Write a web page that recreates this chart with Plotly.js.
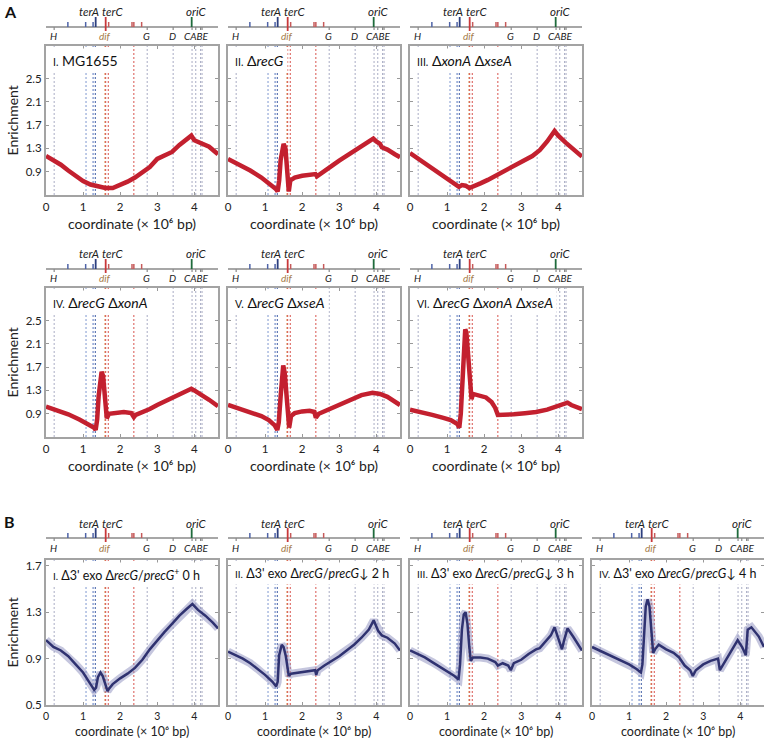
<!DOCTYPE html>
<html><head><meta charset="utf-8">
<script src="https://cdn.plot.ly/plotly-3.0.1.min.js"></script>
<style>body{margin:0;background:#fff}</style>
</head><body><div id="chart" style="width:764px;height:739px"></div>
<script>
// ---------- data (coordinate in Mb, enrichment) ----------
const a1X=[0,0.2,0.4,0.6,0.8,1.0,1.2,1.4,1.6,1.8,2.0,2.2,2.4,2.6,2.8,3.0,3.2,3.4,3.6,3.8,3.92,4.0,4.2,4.4,4.64];
const a1Y=[1.17,1.10,1.02,0.92,0.82,0.74,0.68,0.65,0.62,0.62,0.67,0.73,0.80,0.88,0.98,1.12,1.18,1.24,1.36,1.45,1.52,1.44,1.38,1.33,1.20];

const a2X=[0,0.3,0.6,0.9,1.1,1.3,1.34,1.38,1.42,1.47,1.5,1.55,1.6,1.64,1.68,1.8,2.0,2.2,2.36,2.40,2.6,2.8,3.0,3.2,3.4,3.6,3.8,3.92,4.0,4.1,4.15,4.3,4.5,4.64];
const a2Y=[1.12,1.03,0.92,0.80,0.71,0.60,0.56,0.75,1.10,1.32,1.38,1.30,0.90,0.56,0.75,0.80,0.83,0.85,0.86,0.82,0.92,1.00,1.09,1.17,1.26,1.34,1.42,1.47,1.42,1.38,1.32,1.28,1.20,1.15];

const a3X=[0,0.2,0.4,0.6,0.8,1.0,1.2,1.32,1.4,1.5,1.6,1.7,1.9,2.1,2.3,2.5,2.7,2.9,3.1,3.3,3.5,3.7,3.9,4.0,4.2,4.4,4.64];
const a3Y=[1.22,1.13,1.04,0.95,0.86,0.77,0.68,0.64,0.67,0.66,0.62,0.64,0.70,0.76,0.83,0.89,0.95,1.03,1.10,1.17,1.27,1.42,1.60,1.52,1.40,1.28,1.16];

const a4X=[0,0.3,0.6,0.9,1.1,1.3,1.34,1.38,1.42,1.46,1.5,1.54,1.58,1.62,1.64,1.7,1.9,2.1,2.3,2.37,2.42,2.6,2.8,3.0,3.2,3.4,3.6,3.8,3.92,4.0,4.2,4.4,4.64];
const a4Y=[1.02,0.96,0.89,0.80,0.74,0.66,0.62,0.80,1.20,1.50,1.62,1.55,1.30,0.95,0.82,0.90,0.92,0.93,0.91,0.84,0.88,0.92,0.98,1.05,1.11,1.17,1.23,1.29,1.33,1.30,1.23,1.14,1.03];

const a5X=[0,0.3,0.6,0.9,1.1,1.26,1.33,1.37,1.42,1.46,1.49,1.53,1.58,1.62,1.65,1.7,1.8,2.0,2.2,2.33,2.37,2.45,2.7,3.0,3.3,3.6,3.9,4.1,4.3,4.5,4.64];
const a5Y=[1.05,0.99,0.93,0.86,0.79,0.70,0.62,0.75,1.20,1.60,1.73,1.60,1.20,0.80,0.66,0.86,0.91,0.94,0.95,0.93,0.83,0.90,0.97,1.05,1.14,1.22,1.26,1.24,1.19,1.11,1.05];

const a6X=[0,0.3,0.6,0.9,1.1,1.28,1.33,1.37,1.41,1.45,1.49,1.52,1.56,1.6,1.64,1.66,1.7,1.9,2.05,2.2,2.3,2.37,2.5,2.8,3.1,3.4,3.7,3.95,4.1,4.25,4.35,4.5,4.64];
const a6Y=[0.97,0.93,0.88,0.83,0.79,0.72,0.66,0.90,1.50,2.10,2.35,2.30,2.00,1.60,1.25,1.15,1.24,1.21,1.18,1.10,1.00,0.88,0.88,0.89,0.91,0.93,0.97,1.02,1.04,1.09,1.05,1.02,0.98];

const b1X=[0,0.2,0.4,0.6,0.8,1.0,1.2,1.3,1.35,1.4,1.47,1.53,1.6,1.66,1.7,1.8,2.0,2.2,2.4,2.6,2.8,3.0,3.2,3.4,3.6,3.8,3.95,4.1,4.3,4.5,4.64];
const b1Y=[1.06,1.00,0.97,0.92,0.85,0.78,0.68,0.63,0.65,0.74,0.78,0.75,0.68,0.62,0.64,0.68,0.73,0.77,0.82,0.89,0.98,1.06,1.13,1.20,1.27,1.33,1.37,1.32,1.27,1.21,1.16];

const b2X=[0,0.2,0.4,0.6,0.8,1.0,1.2,1.3,1.34,1.38,1.45,1.5,1.56,1.6,1.64,1.7,1.9,2.1,2.35,2.38,2.42,2.6,2.8,3.0,3.2,3.4,3.6,3.8,3.93,4.05,4.15,4.3,4.5,4.64];
const b2Y=[0.96,0.93,0.90,0.86,0.81,0.76,0.70,0.66,0.70,0.93,1.02,1.00,0.92,0.82,0.75,0.77,0.78,0.79,0.80,0.76,0.80,0.84,0.88,0.92,0.97,1.02,1.08,1.15,1.23,1.14,1.10,1.08,1.03,0.97];

const b3X=[0,0.2,0.4,0.6,0.8,1.0,1.2,1.31,1.35,1.4,1.45,1.5,1.55,1.6,1.64,1.7,1.9,2.1,2.3,2.37,2.5,2.65,2.72,2.8,3.0,3.2,3.4,3.5,3.6,3.8,3.9,4.0,4.1,4.15,4.25,4.4,4.64];
const b3Y=[0.97,0.94,0.91,0.87,0.83,0.79,0.75,0.72,0.85,1.15,1.28,1.30,1.20,1.00,0.88,0.91,0.91,0.90,0.87,0.84,0.86,0.84,0.80,0.86,0.89,0.94,0.98,0.99,1.03,1.10,1.17,1.08,0.98,1.05,1.16,1.09,0.97];

const b4X=[0,0.2,0.4,0.6,0.8,1.0,1.2,1.32,1.36,1.4,1.45,1.5,1.55,1.6,1.65,1.7,1.8,2.0,2.2,2.35,2.5,2.65,2.72,2.8,3.0,3.2,3.4,3.45,3.6,3.8,3.93,4.05,4.15,4.2,4.3,4.5,4.64];
const b4Y=[1.00,0.97,0.94,0.91,0.88,0.85,0.81,0.78,0.85,1.10,1.35,1.41,1.35,1.15,0.95,0.98,1.02,0.98,0.95,0.91,0.84,0.80,0.75,0.80,0.85,0.88,0.90,0.80,0.88,0.98,1.06,1.00,0.93,1.15,1.17,1.09,1.00];

// panel titles
const titlesA=["<span style='font-size:10.5px'>I.</span> MG1655",
 "<span style='font-size:10.5px'>II.</span> Δ<i>recG</i>",
 "<span style='font-size:10.5px'>III.</span> Δ<i>xonA</i> Δ<i>xseA</i>",
 "<span style='font-size:10.5px'>IV.</span> Δ<i>recG</i> Δ<i>xonA</i>",
 "<span style='font-size:10.5px'>V.</span> Δ<i>recG</i> Δ<i>xseA</i>",
 "<span style='font-size:10.5px'>VI.</span> Δ<i>recG</i> Δ<i>xonA</i> Δ<i>xseA</i>"];
const titlesB=["<span style='font-size:10px'>I.</span> Δ3' exo Δ<i>recG</i>/<i>precG</i><sup>+</sup> 0 h",
 "<span style='font-size:10px'>II.</span> Δ3' exo Δ<i>recG</i>/<i>precG</i>↓ 2 h",
 "<span style='font-size:10px'>III.</span> Δ3' exo Δ<i>recG</i>/<i>precG</i>↓ 3 h",
 "<span style='font-size:10px'>IV.</span> Δ3' exo Δ<i>recG</i>/<i>precG</i>↓ 4 h"];
const xTitle='coordinate (× 10⁶ bp)';

// genome features (Mb)
const rrnPos=[0.22,2.73,3.43,3.94,4.04,4.17,4.21];
const rrnNames=["H","G","D","CABE"];
const rrnLabelPos=[0.2,2.71,3.41,4.05];
const terLeftShort=[0.59,1.07,1.27];
const terAPos=1.34;
const terRightShort=[1.69,2.32,2.37,2.58];
const terCPos=1.61;
const difPos=1.59;
const oriCPos=3.93;
const dashBlue=[1.08,1.27,1.33];
const dashRed=[1.61,1.68,2.37];

const xTicks=[0,1,2,3,4];
const yTicksA=[0.9,1.3,1.7,2.1,2.5];
const yTicksB=[0.5,0.9,1.3,1.7];

// ---------- layout ----------
const W=764,H=739;
const py=p=>1-p/H, pxf=p=>p/W;
const FONT="Lato, 'Open Sans', sans-serif";
const panels=[
 {x:a1X,y:a1Y,t:titlesA[0],L:46,T:46,B:195,g:'A'},
 {x:a2X,y:a2Y,t:titlesA[1],L:228,T:46,B:195,g:'A'},
 {x:a3X,y:a3Y,t:titlesA[2],L:410,T:46,B:195,g:'A'},
 {x:a4X,y:a4Y,t:titlesA[3],L:46,T:288,B:437,g:'A'},
 {x:a5X,y:a5Y,t:titlesA[4],L:228,T:288,B:437,g:'A'},
 {x:a6X,y:a6Y,t:titlesA[5],L:410,T:288,B:437,g:'A'},
 {x:b1X,y:b1Y,t:titlesB[0],L:46,T:560,B:705,g:'B'},
 {x:b2X,y:b2Y,t:titlesB[1],L:228,T:560,B:705,g:'B'},
 {x:b3X,y:b3Y,t:titlesB[2],L:410,T:560,B:705,g:'B'},
 {x:b4X,y:b4Y,t:titlesB[3],L:592,T:560,B:705,g:'B'}
];
const PW=172;
const traces=[],shapes=[],annotations=[];
const layout={width:W,height:H,margin:{l:0,r:0,t:0,b:0},showlegend:false,
  paper_bgcolor:'#fff',plot_bgcolor:'#fff',font:{family:FONT,color:'#222',size:11}};

panels.forEach((p,i)=>{
  const n=i+1, xa='x'+(n===1?'':n), ya='y'+(n===1?'':n);
  const xk='xaxis'+(n===1?'':n), yk='yaxis'+(n===1?'':n);
  const isA=p.g==='A';
  layout[xk]={domain:[pxf(p.L),pxf(p.L+PW)],anchor:ya,range:[0,4.64],tickvals:xTicks,
    ticks:'inside',ticklen:3,tickcolor:'#999',showline:true,mirror:'ticks',linecolor:'#a3a3a3',linewidth:2,
    showgrid:false,zeroline:false,tickfont:{size:isA?11.5:10.5,color:'#222'}};
  layout[yk]={domain:[py(p.B),py(p.T)],anchor:xa,range:isA?[0.5,3.06]:[0.5,1.75],
    tickvals:isA?yTicksA:yTicksB,ticks:'inside',ticklen:3,tickcolor:'#999',showline:true,mirror:'ticks',
    linecolor:'#a3a3a3',linewidth:2,showgrid:false,zeroline:false,showticklabels:p.L===46,
    tickfont:{size:11.5,color:'#222'}};
  // data
  if(isA){
    traces.push({x:p.x,y:p.y,xaxis:xa,yaxis:ya,type:'scatter',mode:'lines',
      line:{color:'#c3202f',width:4.5},hoverinfo:'skip'});
  } else {
    traces.push({x:p.x,y:p.y,xaxis:xa,yaxis:ya,type:'scatter',mode:'lines',
      line:{color:'rgba(140,142,190,0.5)',width:8},hoverinfo:'skip'});
    traces.push({x:p.x,y:p.y,xaxis:xa,yaxis:ya,type:'scatter',mode:'lines',
      line:{color:'#2f3270',width:2.5},hoverinfo:'skip'});
  }
  // dashed reference lines
  const vl=(pos,color)=>shapes.push({type:'line',xref:xa,yref:ya+' domain',x0:pos,x1:pos,y0:0,y1:1,
     layer:'below',line:{color:color,width:1,dash:'2px,2px'}});
  rrnPos.forEach(v=>vl(v,'#a9acc4'));
  dashBlue.forEach((v,k)=>vl(v,['#7e97cf','#5a78bf','#3d5aa3'][k]));
  vl(difPos,'#d99a5a');
  dashRed.forEach(v=>vl(v,'#d8544e'));
  // chromosome map
  const lineOff=isA?19:22, upOff=isA?34:37, lowOff=isA?10:12;
  const yl=py(p.T-lineOff);
  const dy=k=>k/H;
  shapes.push({type:'line',xref:xa,yref:'paper',x0:0,x1:4.64,y0:yl,y1:yl,line:{color:'#8a8a8a',width:1.5}});
  const tick=(pos,h,color,w,down)=>shapes.push({type:'line',xref:xa,yref:'paper',x0:pos,x1:pos,
     y0:yl-dy(down||0),y1:yl+dy(h),line:{color:color,width:w||1.5}});
  terLeftShort.forEach(v=>tick(v,5,'#4f64a8'));
  tick(terAPos,10,'#2c3f7e',1.8);
  tick(terCPos,10,'#c8383a',1.8,4);
  terRightShort.forEach(v=>tick(v,5,'#c65a5a'));
  tick(oriCPos,10,'#1f6b3c',1.8);
  rrnPos.forEach(v=>tick(v,0,'#8a8a8a',1.2,3));
  const lab=(txt,pos,yy,color,size)=>annotations.push({xref:xa,yref:'paper',x:pos,y:yy,text:txt,showarrow:false,
     xanchor:'center',yanchor:'middle',font:{family:FONT,size:size||11.5,color:color||'#222'}});
  lab('<i>terA</i>',1.15,py(p.T-upOff));
  lab('<i>terC</i>',1.8,py(p.T-upOff));
  lab('<i>oriC</i>',4.05,py(p.T-upOff));
  rrnNames.forEach((nm,k)=>lab('<i>'+nm+'</i>',rrnLabelPos[k],py(p.T-lowOff),'#222',10));
  lab('<i>dif</i>',difPos,py(p.T-lowOff),'#a57a48',10);
  // panel title
  annotations.push({xref:xa+' domain',yref:ya+' domain',x:0.015,y:0.985,xanchor:'left',yanchor:'top',
    text:p.t,showarrow:false,bgcolor:'#fff',borderpad:3,font:{family:FONT,size:isA?14:12.5,color:'#111'}});
  // x title
  annotations.push({xref:'paper',yref:'paper',x:pxf(p.L+PW/2),y:py(isA?p.B+28:731),xanchor:'center',yanchor:'middle',
    text:xTitle,showarrow:false,font:{family:FONT,size:isA?14:12.5,color:'#222'}});
  if(p.L===46){
    annotations.push({xref:'paper',yref:'paper',x:pxf(12),y:py((p.T+p.B)/2),textangle:-90,xanchor:'center',yanchor:'middle',
      text:'Enrichment',showarrow:false,font:{family:FONT,size:14,color:'#222'}});
  }
});
annotations.push({xref:'paper',yref:'paper',x:pxf(2),y:py(11),xanchor:'left',yanchor:'middle',text:'<b>A</b>',showarrow:false,font:{family:FONT,size:16,color:'#111'}});
annotations.push({xref:'paper',yref:'paper',x:pxf(2),y:py(521),xanchor:'left',yanchor:'middle',text:'<b>B</b>',showarrow:false,font:{family:FONT,size:16,color:'#111'}});
layout.shapes=shapes;layout.annotations=annotations;
Plotly.newPlot('chart',traces,layout,{staticPlot:true,displayModeBar:false});
</script></body></html>
